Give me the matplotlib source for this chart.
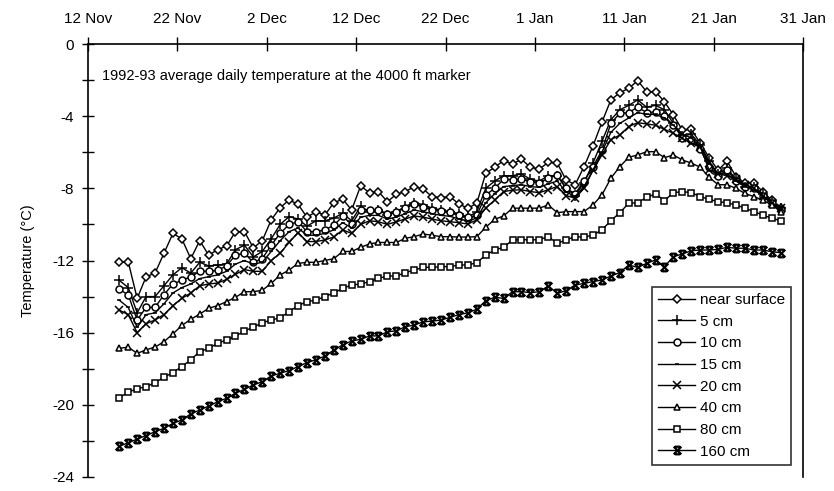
import numpy as np
import pandas as pd
import matplotlib
matplotlib.use("Agg")
import matplotlib.pyplot as plt
from matplotlib.path import Path

plt.rcParams["font.family"] = ["Liberation Sans", "DejaVu Sans"]
plt.rcParams["axes.unicode_minus"] = False

dates = pd.date_range("1992-11-15 12:00", periods=75, freq="D")

near_surface = [
    -12.07, -12.07, -14.1, -12.9, -12.7, -11.6, -10.5, -10.8, -11.9, -10.9,
    -11.7, -11.4, -11.2, -10.4, -10.4, -11.3, -10.9, -9.75, -9.07, -8.65,
    -8.88, -9.6, -9.3, -9.48, -8.8, -8.6, -9.2, -7.87, -8.24, -8.18,
    -8.74, -8.33, -8.18, -7.91, -8.04, -8.46, -8.52, -8.46, -8.87, -9.1,
    -8.83, -7.17, -6.83, -6.47, -6.65, -6.39, -6.83, -6.93, -6.56, -6.61,
    -7.54, -7.8, -6.8, -5.65, -4.34, -3.1, -2.7, -2.46, -2.03, -2.64,
    -2.64, -3.2, -3.94, -4.77, -4.73, -5.5, -6.3, -7.0, -6.49, -7.35,
    -7.7, -7.7, -8.18, -8.65, -9.1,
]
cm5 = [
    -13.1, -13.5, -14.9, -14.0, -14.0, -13.4, -12.8, -12.4, -12.7, -12.1,
    -12.3, -12.25, -12.2, -11.4, -11.15, -11.8, -11.5, -10.8, -10.0, -9.57,
    -9.7, -10.1, -9.8, -9.8, -9.65, -9.38, -9.8, -9.0, -9.3, -9.2,
    -9.5, -9.3, -9.0, -8.8, -8.9, -9.1, -9.2, -9.3, -9.4, -9.6,
    -9.3, -8.0, -7.6, -7.3, -7.3, -7.2, -7.5, -7.6, -7.3, -7.3,
    -8.0, -8.4, -7.7, -6.6, -5.4, -4.2, -3.65, -3.4, -3.1, -3.5,
    -3.4, -3.65, -4.4, -5.1, -5.0, -5.6, -6.5, -7.2, -6.9, -7.5,
    -7.9, -7.9, -8.3, -8.7, -9.1,
]
cm10 = [
    -13.6, -13.9, -15.3, -14.6, -14.6, -13.9, -13.3, -13.1, -12.9, -12.6,
    -12.6, -12.55, -12.3, -11.7, -11.6, -12.1, -11.9, -11.15, -10.5, -10.0,
    -9.85, -10.4, -10.4, -10.3, -10.05, -9.55, -10.0, -9.2, -9.2, -9.2,
    -9.4, -9.3, -9.1, -8.87, -9.05, -9.2, -9.25, -9.3, -9.48, -9.6,
    -9.5, -8.37, -8.0, -7.5, -7.52, -7.5, -7.63, -7.7, -7.45, -7.26,
    -8.0, -8.3, -7.6, -6.8, -5.9, -4.4, -3.84, -3.8, -3.5, -3.8,
    -3.77, -4.0, -4.5, -5.2, -5.3, -5.84, -6.8, -7.3, -7.0, -7.6,
    -7.9, -8.0, -8.4, -8.8, -9.2,
]
cm15 = [
    -14.2, -14.6, -15.7, -15.0, -14.9, -14.4, -13.8, -13.5, -13.3, -13.0,
    -12.9, -12.8, -12.6, -12.2, -12.0, -12.2, -12.1, -11.5, -10.9, -10.4,
    -10.2, -10.6, -10.6, -10.5, -10.3, -9.9, -10.2, -9.6, -9.5, -9.5,
    -9.7, -9.6, -9.4, -9.2, -9.3, -9.4, -9.5, -9.55, -9.7, -9.8,
    -9.65, -8.8, -8.3, -7.9, -7.85, -7.8, -7.9, -7.95, -7.75, -7.6,
    -8.2, -8.45, -7.9, -7.0, -6.0, -4.9, -4.4, -4.1, -3.8, -3.9,
    -3.9, -4.1, -4.5, -5.0, -5.2, -5.7, -6.6, -7.2, -7.2, -7.6,
    -7.9, -8.1, -8.4, -8.8, -9.1,
]
cm20 = [
    -14.75, -15.0, -16.0, -15.5, -15.3, -15.0, -14.5, -14.1, -13.8, -13.4,
    -13.3, -13.25, -13.05, -12.77, -12.5, -12.6, -12.6, -12.0, -11.6, -11.0,
    -10.45, -10.95, -10.95, -10.86, -10.7, -10.3, -10.5, -10.0, -9.8, -9.85,
    -10.0, -9.85, -9.7, -9.53, -9.6, -9.7, -9.8, -9.85, -9.9, -9.98,
    -9.75, -9.1, -8.65, -8.18, -8.1, -8.08, -8.18, -8.24, -8.08, -7.9,
    -8.4, -8.55, -8.0, -7.0, -6.15, -5.3, -5.05, -4.58, -4.36, -4.43,
    -4.5, -4.73, -4.95, -5.23, -5.5, -5.69, -7.0, -7.2, -7.3, -7.5,
    -7.8, -8.0, -8.4, -8.8, -9.1,
]
cm40 = [
    -16.87, -16.8, -17.15, -16.95, -16.8, -16.5, -16.07, -15.6, -15.26, -14.97,
    -14.65, -14.5, -14.28, -14.04, -13.73, -13.73, -13.65, -13.27, -12.8, -12.53,
    -12.16, -12.1, -12.1, -12.0, -11.9, -11.5, -11.5, -11.27, -11.08, -11.0,
    -11.0, -11.0, -10.77, -10.68, -10.53, -10.6, -10.68, -10.68, -10.7, -10.7,
    -10.68, -10.16, -9.72, -9.53, -9.1, -9.1, -9.1, -9.1, -8.92, -9.35,
    -9.29, -9.29, -9.29, -8.92, -8.37, -7.44, -6.8, -6.28, -6.15, -5.97,
    -5.97, -6.3, -6.15, -6.43, -6.6, -6.83, -7.39, -7.8, -7.8, -8.0,
    -8.28, -8.46, -8.65, -8.92, -9.29,
]
cm80 = [
    -19.6, -19.3, -19.1, -19.0, -18.77, -18.47, -18.21, -17.88, -17.5, -17.05,
    -16.87, -16.59, -16.4, -16.2, -15.9, -15.7, -15.45, -15.3, -15.17, -14.84,
    -14.5, -14.28, -14.2, -14.0, -13.8, -13.54, -13.36, -13.3, -13.17, -12.99,
    -12.86, -12.86, -12.67, -12.53, -12.38, -12.38, -12.34, -12.34, -12.25, -12.25,
    -12.12, -11.7, -11.42, -11.27, -10.86, -10.84, -10.86, -10.84, -10.68, -11.05,
    -10.86, -10.68, -10.7, -10.6, -10.3, -9.8, -9.35, -8.83, -8.8, -8.5,
    -8.31, -8.68, -8.24, -8.18, -8.24, -8.46, -8.61, -8.74, -8.8, -8.92,
    -9.1, -9.29, -9.48, -9.66, -9.79,
]
cm160 = [
    -22.3, -22.1, -21.9, -21.7, -21.49, -21.3, -21.03, -20.84, -20.5, -20.29,
    -20.07, -19.83, -19.64, -19.36, -19.14, -18.9, -18.72, -18.4, -18.25, -18.1,
    -17.88, -17.66, -17.5, -17.3, -16.96, -16.68, -16.46, -16.37, -16.18, -16.18,
    -15.95, -15.9, -15.67, -15.58, -15.4, -15.36, -15.3, -15.15, -15.0, -14.9,
    -14.7, -14.23, -14.04, -14.1, -13.73, -13.73, -13.78, -13.73, -13.41, -13.82,
    -13.67, -13.36, -13.27, -13.17, -13.08, -12.86, -12.67, -12.25, -12.38, -12.16,
    -11.97, -12.34, -11.79, -11.64, -11.46, -11.42, -11.42, -11.38, -11.27, -11.32,
    -11.32, -11.42, -11.42, -11.51, -11.57,
]

tick_dates = pd.to_datetime([
    "1992-11-12", "1992-11-22", "1992-12-02", "1992-12-12", "1992-12-22",
    "1993-01-01", "1993-01-11", "1993-01-21", "1993-01-31",
])
tick_labels = ["12 Nov", "22 Nov", "2 Dec", "12 Dec", "22 Dec",
               "1 Jan", "11 Jan", "21 Jan", "31 Jan"]

# X with flat bars top and bottom, used for 160 cm
hourglass = Path(
    [(-1, -1), (1, 1), (-1, 1), (1, -1), (-0.7, 1), (0.7, 1), (-0.7, -1), (0.7, -1)],
    [Path.MOVETO, Path.LINETO] * 4,
)

series = [
    ("near surface", near_surface, "D", 4.5, "white", 1.1),
    ("5 cm", cm5, "+", 7, "none", 1.1),
    ("10 cm", cm10, "o", 5, "white", 1.1),
    ("15 cm", cm15, "_", 3, "none", 1.1),
    ("20 cm", cm20, "x", 5.5, "none", 1.1),
    ("40 cm", cm40, "^", 5, "white", 1.1),
    ("80 cm", cm80, "s", 5, "white", 1.1),
    ("160 cm", cm160, hourglass, 5.5, "none", 1.6),
]

fig = plt.figure(figsize=(8.34, 4.91), dpi=100)
ax = fig.add_axes([88 / 834, 1 - 477 / 491, (803 - 88) / 834, (477 - 44) / 491])

for name, vals, mk, ms, fc, mew in series:
    ax.plot(dates, vals, color="black", lw=1.0, marker=mk, markersize=ms,
            markerfacecolor=fc, markeredgecolor="black", markeredgewidth=mew,
            label=name)

ax.set_xlim(pd.Timestamp("1992-11-12"), pd.Timestamp("1993-01-31"))
ax.set_ylim(-24, 0)

ax.xaxis.tick_top()
ax.set_xticks(tick_dates)
ax.set_xticklabels(tick_labels, fontsize=11)
ax.tick_params(axis="x", direction="inout", length=10, width=1, pad=8)

ax.set_yticks(np.arange(-24, 1, 4))
ax.set_yticks(np.arange(-22, 0, 4), minor=True)
ax.tick_params(axis="y", which="both", direction="inout", length=8, width=1, labelsize=11, pad=6)

ax.spines["bottom"].set_visible(False)
for s in ["top", "left", "right"]:
    ax.spines[s].set_linewidth(1.2)

ax.set_ylabel("Temperature (°C)", fontsize=10.5, labelpad=12)

ax.text(0.02, 0.925, "1992-93 average daily temperature at the 4000 ft marker",
        transform=ax.transAxes, fontsize=10.5, va="center")

leg = ax.legend(loc="lower right", fontsize=11, frameon=True, fancybox=False,
                edgecolor="black", borderaxespad=0.8, handlelength=2.4,
                labelspacing=0.5, handletextpad=0.3, borderpad=0.4)
leg.get_frame().set_linewidth(1.2)

fig.savefig("out.png", dpi=100)
